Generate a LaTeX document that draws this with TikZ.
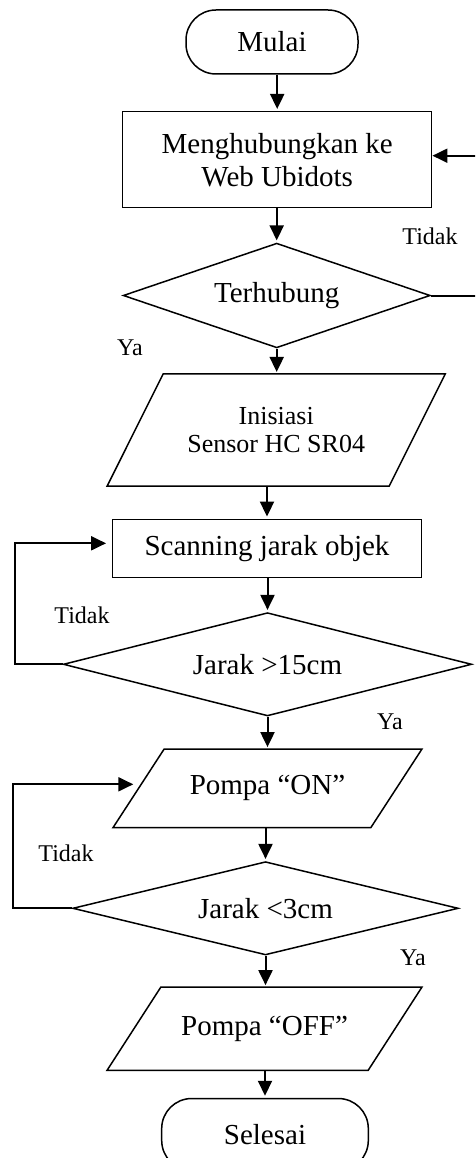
\documentclass[tikz,border=0pt]{standalone}
\usepackage{fontspec}
\setmainfont{Liberation Serif}
\usetikzlibrary{arrows.meta,shapes.geometric,calc}
\newcommand\parlo[2]{%
  \draw[shp] ($(#1.north west)+(#2,0)$) -- ($(#1.north east)+(#2,0)$)
    -- ($(#1.south east)+(-#2,0)$) -- ($(#1.south west)+(-#2,0)$) -- cycle;}
\begin{document}
\begin{tikzpicture}[x=1pt,y=-1pt,
  shp/.style={line width=1.5pt},
  box/.style={draw, shp, inner sep=0pt, align=center, font=\fontsize{29}{33}\selectfont},
  term/.style={box, rounded corners=30pt},
  dec/.style={draw, shp, shape=diamond, inner sep=0pt, font=\fontsize{29}{33}\selectfont},
  io/.style={inner sep=0pt, align=center, font=\fontsize{29}{33}\selectfont},
  lbl/.style={inner sep=0pt, font=\fontsize{24}{28}\selectfont},
  ln/.style={line width=2pt},
  arr/.style={ln, -{Triangle[length=15pt,width=14pt]}, shorten >=2pt}
]
\useasboundingbox (0,0) rectangle (475,1158);
\clip (0,0) rectangle (475,1158);

% nodes
\node[term, minimum width=172pt, minimum height=64pt] (start) at (272,42) {Mulai};
\node[box, minimum width=309pt, minimum height=96pt] (conn) at (277.2,159.7) {Menghubungkan ke\\Web Ubidots};
\node[dec, minimum width=307pt, minimum height=104.7pt, aspect=2.93] (terh) at (276.7,295.5) {Terhubung};
\node[io, minimum width=281.7pt, minimum height=111.7pt, font=\fontsize{26}{28}\selectfont] (inis) at (276.2,430) {Inisiasi\\Sensor HC SR04};
\node[box, minimum width=309.4pt, minimum height=58pt] (scan) at (267,548.3) {Scanning jarak objek};
\node[dec, minimum width=408.4pt, minimum height=103.3pt, aspect=3.95] (j15) at (267.5,664.3) {Jarak >15cm};
\node[io, minimum width=257.4pt, minimum height=78pt] (pon) at (267.5,788.3) {Pompa “ON”};
\node[dec, minimum width=385.6pt, minimum height=93.3pt, aspect=4.13] (j3) at (265.5,908.3) {Jarak <3cm};
\node[io, minimum width=260.7pt, minimum height=82.7pt] (poff) at (264.5,1028.7) {Pompa “OFF”};
\node[term, minimum width=206.6pt, minimum height=72pt] (stop) at (265,1134.5) {Selesai};

% parallelogram outlines
\parlo{inis}{28}
\parlo{pon}{25.5}
\parlo{poff}{26.85}

% labels
\node[lbl] (t1) at (430,236) {Tidak};
\node[lbl] (y1) at (130,347.5) {Ya};
\node[lbl] (t2) at (82,615) {Tidak};
\node[lbl] (y2) at (390,722) {Ya};
\node[lbl] (t3) at (66,853) {Tidak};
\node[lbl] (y3) at (413,958) {Ya};

\coordinate (onin) at (135.3,784.3);

% main flow
\draw[arr] (conn.north |- start.south) -- (conn.north);
\draw[arr] (terh.north |- conn.south) -- (terh.north);
\draw[arr] (terh.south) -- (inis.north -| terh.south);
\draw[arr] (scan.north |- inis.south) -- (scan.north);
\draw[arr] (j15.north |- scan.south) -- (j15.north);
\draw[arr] (j15.south) -- (pon.north -| j15.south);
\draw[arr] (j3.north |- pon.south) -- (j3.north);
\draw[arr] (j3.south) -- (poff.north -| j3.south);
\draw[arr] (stop.north |- poff.south) -- (stop.north);

% loops
\draw[arr, shorten >=0pt] (terh.east) -- ++(50,0) |- ([yshift=4pt]conn.east);
\draw[arr, shorten >=5.5pt] (j15.west) -- ++(-47.3,0) |- ([yshift=5pt]scan.west);
\draw[arr] (j3.west) -- ++(-58.7,0) |- (onin);
\end{tikzpicture}
\end{document}
